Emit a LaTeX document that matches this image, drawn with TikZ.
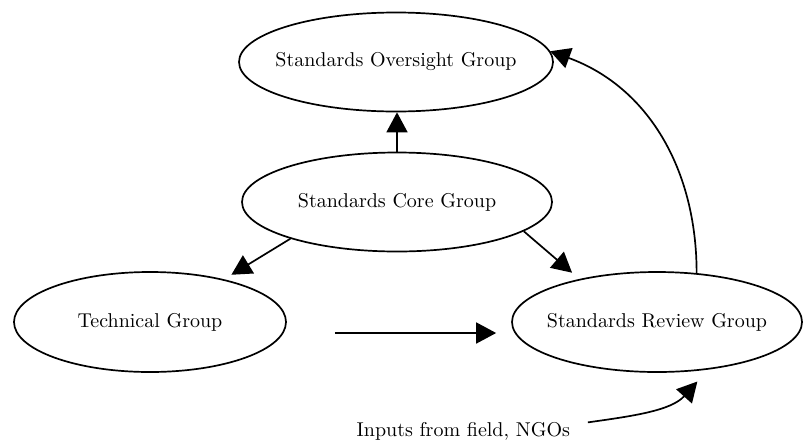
\documentclass[tikz,border=0pt]{standalone}
\usepackage{mathpazo}
\usetikzlibrary{shapes.geometric,arrows.meta}

\begin{document}
\begin{tikzpicture}[x=0.5pt,y=-0.5pt,font=\fontsize{10}{12}\selectfont,
  grp/.style={ellipse,draw,line width=0.85pt,inner xsep=-20pt,inner ysep=0pt,minimum height=49.5pt},
  arr/.style={line width=0.85pt,-{Triangle[length=10pt,width=10.5pt]}}]
\useasboundingbox (0,0) rectangle (806,445);
% the four groups
\node[grp,minimum width=157pt] (oversight) at (396,62) {Standards Oversight Group};
\node[grp,minimum width=155pt] (core) at (397,202) {Standards Core Group};
\node[grp,minimum width=136pt,minimum height=50pt] (tech) at (150,322) {Technical Group};
\node[grp,minimum width=145pt,minimum height=50pt] (review) at (657,322) {Standards Review Group};
\node[anchor=base east] (inputs) at (577,436) {Inputs from field, NGOs};
% links
\draw[arr] (core.north) -- (core.north |- oversight.south);
\draw[arr,shorten >=4.3pt] (core.199) -- (tech.30);
\draw[arr,shorten >=4.8pt] (core.347) -- (review.151);
\draw[arr] ([xshift=24pt,yshift=-5.5pt]tech.east) -- ([xshift=-7.5pt,yshift=-5.5pt]review.west);
\draw[arr] (review.51) to[out=90,in=-20] (oversight.4);
\draw[arr,shorten <=5.5pt,shorten >=8pt] ([yshift=3.5pt]inputs.east) to[out=8,in=228] (review.-43);
\end{tikzpicture}
\end{document}
